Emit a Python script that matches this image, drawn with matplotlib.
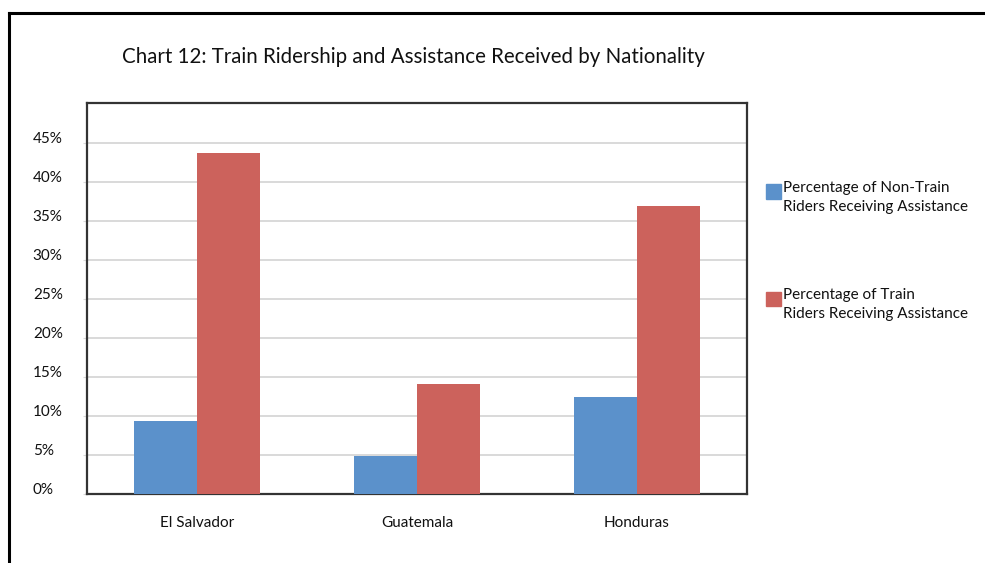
import numpy as np
import matplotlib as mpl; mpl.use('Agg')
import matplotlib.pyplot as plt
from matplotlib.lines import Line2D
from matplotlib.patches import Rectangle
from matplotlib.transforms import ScaledTranslation

mpl.rcParams.update({'font.family': ['Lato', 'DejaVu Sans']})

countries = ['El Salvador', 'Guatemala', 'Honduras']
non_train = [9.4, 4.9, 12.4]      # % of non-train riders receiving assistance
train = [43.7, 14.1, 36.9]        # % of train riders receiving assistance
series = ['Percentage of Non-Train\nRiders Receiving Assistance',
          'Percentage of Train\nRiders Receiving Assistance']
yticks = [0, 5, 10, 15, 20, 25, 30, 35, 40, 45]
BLUE = '#5b91cb'; RED = '#cc625c'

W, H = 985, 563
fig = plt.figure(figsize=(W / 100, H / 100), dpi=100)
ax = fig.add_axes([87 / W, 1 - 494 / H, 660 / W, (494 - 102.7) / H])

x = np.arange(len(countries)); bw = 0.286
ax.bar(x - bw / 2, non_train, bw, color=BLUE, zorder=3)
ax.bar(x + bw / 2, train, bw, color=RED, zorder=3)

ax.set_xlim(-0.5, 2.5); ax.set_ylim(0, 50.1)
ax.set_yticks(yticks)
ax.set_yticklabels([f'{v}%' for v in yticks], ha='left')
ax.yaxis.grid(True, color='#d9d9d9', lw=1.4, zorder=0)
ax.tick_params(axis='y', length=3, color='#d9d9d9', pad=36, labelsize=11, labelcolor='#111111')
for lab in ax.get_yticklabels():
    lab.set_transform(lab.get_transform() + ScaledTranslation(0, 0.055, fig.dpi_scale_trans))
ax.set_xticks(x)
ax.set_xticklabels(countries)
ax.tick_params(axis='x', length=0, pad=16, labelsize=11, labelcolor='#111111')
for s in ax.spines.values():
    s.set_color('#333333'); s.set_linewidth(1.6)

fig.text(122 / W, 1 - 57 / H, 'Chart 12: Train Ridership and Assistance Received by Nationality',
         fontsize=14.8, color='#111111', ha='left', va='center')

# legend drawn by hand: square + two-line label
for col, lab, ytop in [(BLUE, series[0], 184), (RED, series[1], 291.5)]:
    fig.add_artist(Rectangle((766 / W, 1 - (ytop + 14.5) / H), 14.5 / W, 14.5 / H,
                             transform=fig.transFigure, color=col))
    fig.text(783 / W, 1 - (ytop - 3) / H, lab, fontsize=11, color='#111111',
             ha='left', va='top', linespacing=1.45)

# outer frame (only left and top edges visible)
fig.add_artist(Line2D([8.5 / W, 8.5 / W], [0, 1 - 12.5 / H], transform=fig.transFigure, color='black', lw=2.2))
fig.add_artist(Line2D([8.5 / W, 1], [1 - 12.5 / H, 1 - 12.5 / H], transform=fig.transFigure, color='black', lw=2.2))

fig.savefig('out.png', dpi=100)
